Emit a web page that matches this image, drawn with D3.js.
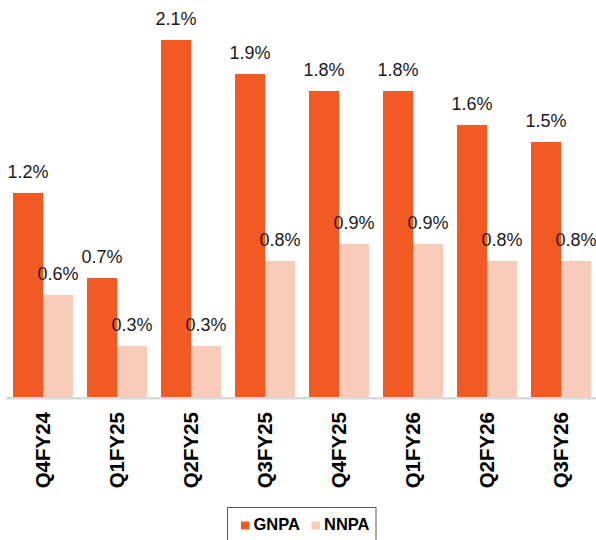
<!DOCTYPE html>
<html>
<head>
<meta charset="utf-8">
<script src="https://cdn.jsdelivr.net/npm/d3@7"></script>
<style>
  html, body { margin: 0; padding: 0; background: #fff; }
  svg { display: block; font-family: "Liberation Sans", Arial, sans-serif; }
</style>
</head>
<body>
<svg id="chart" width="596" height="540"></svg>
<script>
// Asset quality by quarter (% of advances)
const quarters = ["Q4FY24", "Q1FY25", "Q2FY25", "Q3FY25", "Q4FY25", "Q1FY26", "Q2FY26", "Q3FY26"];
const gnpa = [1.2, 0.7, 2.1, 1.9, 1.8, 1.8, 1.6, 1.5];
const nnpa = [0.6, 0.3, 0.3, 0.8, 0.9, 0.9, 0.8, 0.8];
const seriesNames = ["GNPA", "NNPA"];
const seriesColors = ["#F15A22", "#F9CCBA"];

const rows = quarters.map((q, i) => ({ q, values: [gnpa[i], nnpa[i]] }));

const svg = d3.select("#chart");
const baseY = 397;

const x = d3.scaleBand()
  .domain(quarters)
  .range([6, 598])
  .paddingInner(14 / 74)
  .paddingOuter(7 / 74);

const xs = d3.scaleBand()
  .domain(seriesNames)
  .range([0, x.bandwidth()]);

const y = d3.scaleLinear()
  .domain([0, 2.3])
  .range([baseY, baseY - 2.3 * 170]);

const fmt = d => d.toFixed(1) + "%";

const groups = svg.append("g")
  .selectAll("g")
  .data(rows)
  .join("g")
  .attr("transform", d => `translate(${x(d.q)},0)`);

groups.selectAll("rect")
  .data(d => d.values.map((v, j) => ({ v, s: seriesNames[j], c: seriesColors[j] })))
  .join("rect")
  .attr("x", d => xs(d.s))
  .attr("width", xs.bandwidth())
  .attr("y", d => y(d.v))
  .attr("height", d => y(0) - y(d.v))
  .attr("fill", d => d.c);

groups.selectAll("text.val")
  .data(d => d.values.map((v, j) => ({ v, s: seriesNames[j] })))
  .join("text")
  .attr("class", "val")
  .attr("x", d => xs(d.s) + xs.bandwidth() / 2)
  .attr("y", d => y(d.v) - 15)
  .attr("text-anchor", "middle")
  .attr("font-size", 18)
  .attr("fill", "#1a1a1a")
  .text(d => fmt(d.v));

// category axis
const xAxis = svg.append("g")
  .attr("transform", `translate(0,${baseY})`)
  .call(d3.axisBottom(x).tickSize(0).tickPadding(0));
xAxis.select(".domain")
  .attr("d", `M6,1.2H596`)
  .attr("stroke", "#d9d9d9")
  .attr("stroke-width", 2.4);
xAxis.selectAll(".tick text")
  .attr("transform", "translate(0,15) rotate(-90)")
  .attr("x", 0)
  .attr("y", 0)
  .attr("dy", "0.36em")
  .attr("text-anchor", "end")
  .attr("font-size", 20.5)
  .attr("font-weight", "bold")
  .attr("font-family", "Liberation Sans, Arial, sans-serif")
  .attr("fill", "#000");

// legend
const legend = svg.append("g");
legend.append("rect")
  .attr("x", 227.5).attr("y", 507.5)
  .attr("width", 148.5).attr("height", 40)
  .attr("fill", "#fff")
  .attr("stroke", "#595959")
  .attr("stroke-width", 1);

const legendX = [241, 311.5];
seriesNames.forEach((name, i) => {
  legend.append("rect")
    .attr("x", legendX[i]).attr("y", 521.5)
    .attr("width", 8.5).attr("height", 8)
    .attr("fill", seriesColors[i]);
  legend.append("text")
    .attr("x", legendX[i] + 12.5).attr("y", 529.5)
    .attr("font-size", 16.5)
    .attr("font-weight", "bold")
    .attr("fill", "#000")
    .text(name);
});
</script>
</body>
</html>
